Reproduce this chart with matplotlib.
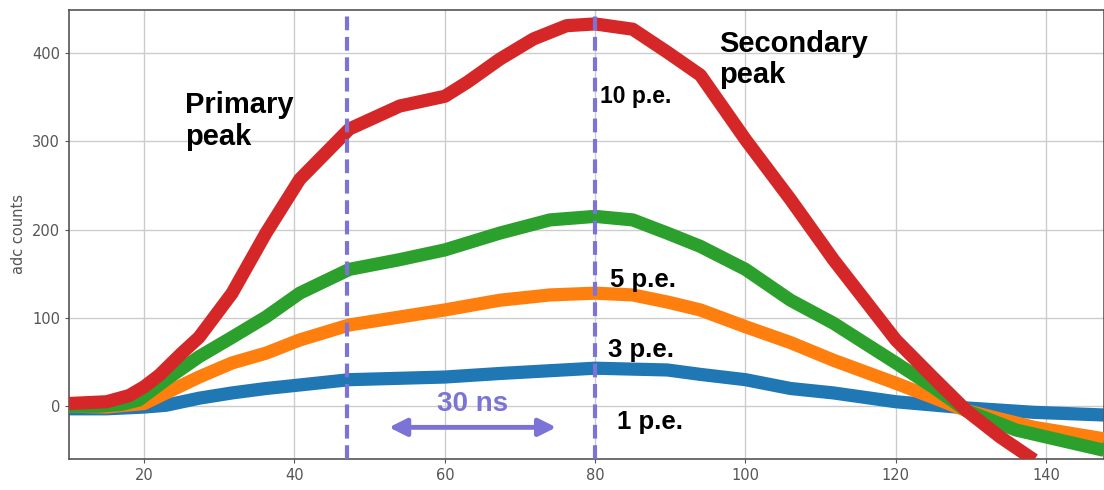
import matplotlib.pyplot as plt

# values (ns, adc counts)
x_red = [10, 15, 18, 20, 22, 25, 27.3, 31.7, 36.2, 40.7, 47.3, 54, 60, 63, 67.3, 71.8, 76.2, 80, 85, 89.6, 94, 100, 106, 111.7, 120, 124.9, 129.4, 133.9, 138.4]
y_red = [3, 5, 12, 22, 35, 60, 78, 128, 196, 257, 314, 340, 351, 367, 393, 416, 431, 433, 427, 401, 375, 302, 234, 166, 75, 33, -5, -35, -61]

x_green = [10, 14, 17, 19.3, 22.9, 27.3, 31.7, 36.2, 40.7, 47.3, 54, 60, 67.3, 74, 80, 85, 89.6, 94, 100, 106, 111.7, 120, 124.9, 129.4, 136, 147.7]
y_green = [0, 0, 2, 7, 30, 56, 78, 101, 128, 155, 166, 177, 196, 211, 215, 211, 196, 181, 155, 120, 94, 49, 22, -5, -27, -50]

x_orange = [10, 15, 20, 22.9, 27.3, 31.7, 36.2, 40.7, 47.3, 54, 60, 67.3, 74, 80, 85, 89.6, 94, 100, 106, 111.7, 120, 124.9, 129.4, 138.4, 147.7]
y_orange = [0, -1, 3, 15, 33, 49, 60, 75, 92, 101, 109, 120, 126, 128, 126, 118, 109, 90, 72, 52, 26, 10, -5, -24, -37]

x_blue = [10, 15, 20, 22.9, 27.3, 31.7, 36.2, 40.7, 47.3, 60, 67.3, 80, 89.6, 94, 100, 106, 111.7, 120, 129.4, 138.4, 147.7]
y_blue = [-3, -3, -1, 1, 9, 15, 20, 24, 30, 33, 37, 43, 41, 36, 30, 20, 15, 5, -2, -7, -10]

pe_labels = ['10 p.e.', '5 p.e.', '3 p.e.', '1 p.e.']
pe_label_pos = [(80.7, 351), (82, 143), (81.7, 64), (82.9, -18)]
pe_label_size = [16.5, 18.5, 18.5, 18.5]
marker_lines = [47, 80]

fig = plt.figure(figsize=(11.04, 4.9), dpi=100)
ax = fig.add_axes([0.0625, 0.063, 0.9375, 0.917])

lw = 9.5
ax.plot(x_blue, y_blue, color='#1f77b4', lw=lw, solid_capstyle='butt', zorder=2)
ax.plot(x_orange, y_orange, color='#ff7f0e', lw=lw, solid_capstyle='butt', zorder=3)
ax.plot(x_green, y_green, color='#2ca02c', lw=lw, solid_capstyle='butt', zorder=4)
ax.plot(x_red, y_red, color='#d62728', lw=lw, solid_capstyle='butt', zorder=5)

for xv in marker_lines:
    ax.axvline(xv, color='#7b73d6', lw=3, ls=(0, (3.3, 1.6)), zorder=6)

# 30 ns arrow
ax.annotate('', xy=(75.2, -24), xytext=(52.2, -24),
            arrowprops=dict(arrowstyle='<|-|>', color='#7b73d6', lw=3.5,
                            mutation_scale=26), zorder=7)
ax.text(63.7, 3, '30 ns', color='#7b73d6', fontsize=20, fontweight='bold',
        ha='center', va='center', family='Liberation Sans')

for txt, (px, py), fs in zip(pe_labels, pe_label_pos, pe_label_size):
    ax.text(px, py, txt, fontsize=fs, fontweight='bold', ha='left',
            va='center', family='Liberation Sans', zorder=8)

ax.text(25.4, 323, 'Primary\npeak', fontsize=21, fontweight='bold',
        ha='left', va='center', family='Liberation Sans', linespacing=1.15)
ax.text(96.5, 393, 'Secondary\npeak', fontsize=21, fontweight='bold',
        ha='left', va='center', family='Liberation Sans', linespacing=1.15)

ax.set_xlim(10, 147.7)
ax.set_ylim(-60, 449)
ax.set_xticks([20, 40, 60, 80, 100, 120, 140])
ax.set_yticks([0, 100, 200, 300, 400])
ax.grid(True, color='#cccccc', lw=1)
ax.set_axisbelow(True)
ax.tick_params(labelsize=10.5, colors='#555555', length=3)
ax.set_ylabel('adc counts', color='#555555', fontsize=10.5)
for s in ax.spines.values():
    s.set_color('#555555')
    s.set_linewidth(1.2)

fig.savefig('out.png', dpi=100)
